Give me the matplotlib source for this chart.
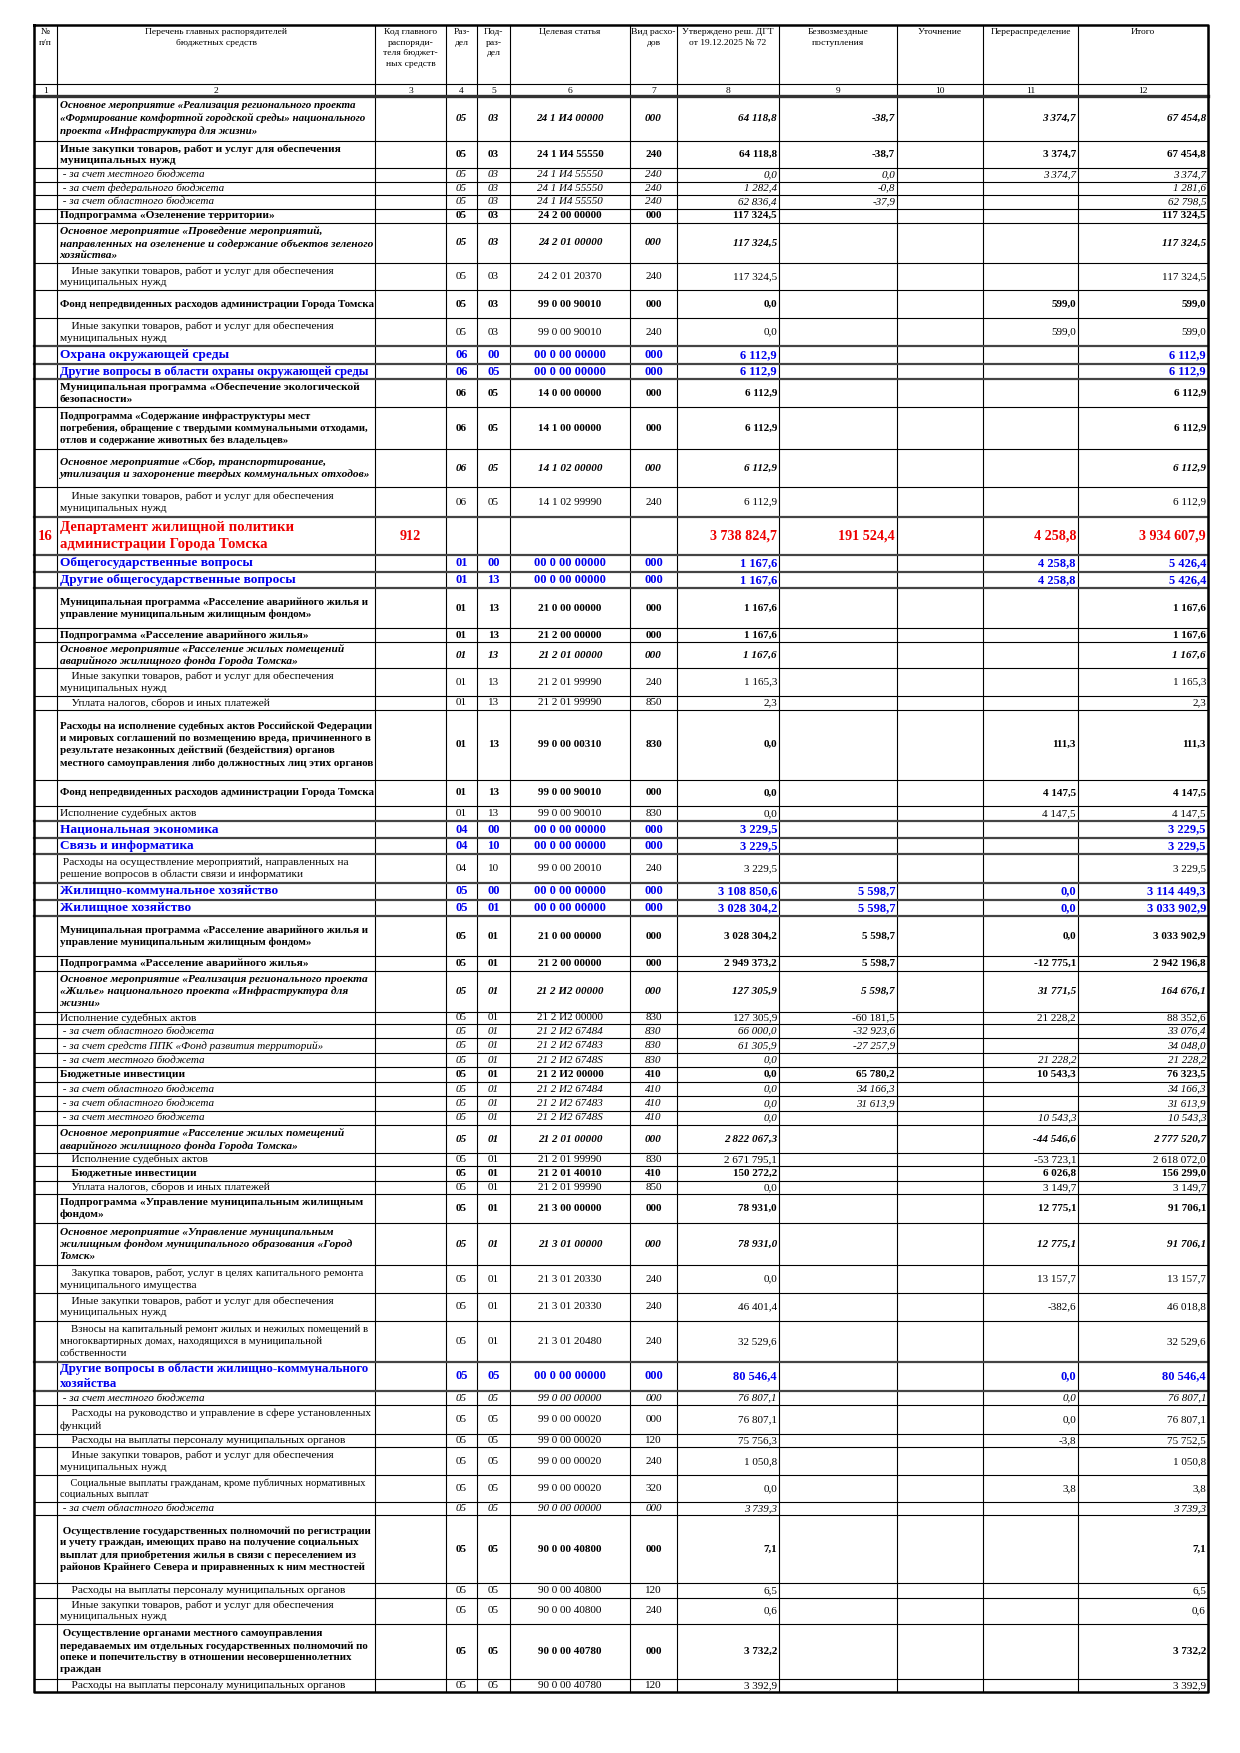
import matplotlib
matplotlib.use("Agg")
import matplotlib.pyplot as plt

plt.rcParams['font.family'] = ['Liberation Serif', 'DejaVu Serif']

# ---------------- DATA ----------------
header_labels = ["№\nп/п", "Перечень главных распорядителей\nбюджетных средств",
                 "Код главного\nраспоряди-\nтеля бюджет-\nных средств", "Раз-\nдел", "Под-\nраз-\nдел",
                 "Целевая статья", "Вид расхо-\nдов", "Утверждено реш. ДГТ\nот 19.12.2025 № 72",
                 "Безвозмездные\nпоступления", "Уточнение", "Перераспределение", "Итого"]
col_numbers = ["1", "2", "3", "4", "5", "6", "7", "8", "9", "10", "11", "12"]

ZAK = "Иные закупки товаров, работ и услуг для обеспечения\nмуниципальных нужд"
ZAK_I = "    Иные закупки товаров, работ и услуг для обеспечения\nмуниципальных нужд"
VYP = "    Расходы на выплаты персоналу муниципальных органов"
FOND = "Фонд непредвиденных расходов администрации Города Томска"
MP_RAS = "Муниципальная программа «Расселение аварийного жилья и\nуправление муниципальным жилищным фондом»"

labels = [
    "Основное мероприятие «Реализация регионального проекта\n«Формирование комфортной городской среды» национального\nпроекта «Инфраструктура для жизни»",
    ZAK,
    " - за счет местного бюджета",
    " - за счет федерального бюджета",
    " - за счет областного бюджета",
    "Подпрограмма «Озеленение территории»",
    "Основное мероприятие «Проведение мероприятий,\nнаправленных на озеленение и содержание объектов зеленого\nхозяйства»",
    ZAK_I,
    FOND,
    ZAK_I,
    "Охрана окружающей среды",
    "Другие вопросы в области охраны окружающей среды",
    "Муниципальная программа «Обеспечение экологической\nбезопасности»",
    "Подпрограмма «Содержание инфраструктуры мест\nпогребения, обращение с твердыми коммунальными отходами,\nотлов и содержание животных без владельцев»",
    "Основное мероприятие «Сбор, транспортирование,\nутилизация и захоронение твердых коммунальных отходов»",
    ZAK_I,
    "Департамент жилищной политики\nадминистрации Города Томска",
    "Общегосударственные вопросы",
    "Другие общегосударственные вопросы",
    MP_RAS,
    "Подпрограмма «Расселение аварийного жилья»",
    "Основное мероприятие «Расселение жилых помещений\nаварийного жилищного фонда Города Томска»",
    ZAK_I,
    "    Уплата налогов, сборов и иных платежей",
    "Расходы на исполнение судебных актов Российской Федерации\nи мировых соглашений по возмещению вреда, причиненного в\nрезультате незаконных действий (бездействия) органов\nместного самоуправления либо должностных лиц этих органов",
    FOND,
    "Исполнение судебных актов",
    "Национальная экономика",
    "Связь и информатика",
    " Расходы на осуществление мероприятий, направленных на\nрешение вопросов в области связи и информатики",
    "Жилищно-коммунальное хозяйство",
    "Жилищное хозяйство",
    MP_RAS,
    "Подпрограмма «Расселение аварийного жилья»",
    "Основное мероприятие «Реализация регионального проекта\n«Жилье» национального проекта «Инфраструктура для\nжизни»",
    "Исполнение судебных актов",
    " - за счет областного бюджета",
    " - за счет средств ППК «Фонд развития территорий»",
    " - за счет местного бюджета",
    "Бюджетные инвестиции",
    " - за счет областного бюджета",
    " - за счет областного бюджета",
    " - за счет местного бюджета",
    "Основное мероприятие «Расселение жилых помещений\nаварийного жилищного фонда Города Томска»",
    "    Исполнение судебных актов",
    "    Бюджетные инвестиции",
    "    Уплата налогов, сборов и иных платежей",
    "Подпрограмма «Управление муниципальным жилищным\nфондом»",
    "Основное мероприятие «Управление муниципальным\nжилищным фондом муниципального образования «Город\nТомск»",
    "    Закупка товаров, работ, услуг в целях капитального ремонта\nмуниципального имущества",
    ZAK_I,
    "    Взносы на капитальный ремонт жилых и нежилых помещений в\nмногоквартирных домах, находящихся в муниципальной\nсобственности",
    "Другие вопросы в области жилищно-коммунального\nхозяйства",
    " - за счет местного бюджета",
    "    Расходы на руководство и управление в сфере установленных\nфункций",
    VYP,
    ZAK_I,
    "    Социальные выплаты гражданам, кроме публичных нормативных\nсоциальных выплат",
    " - за счет областного бюджета",
    " Осуществление государственных полномочий по регистрации\nи учету граждан, имеющих право на получение социальных\nвыплат для приобретения жилья в связи с переселением из\nрайонов Крайнего Севера и приравненных к ним местностей",
    VYP,
    ZAK_I,
    " Осуществление органами местного самоуправления\nпередаваемых им отдельных государственных полномочий по\nопеке и попечительству в отношении несовершеннолетних\nграждан",
    VYP,
]

row_no = [""] * 16 + ["16"] + [""] * 47
gr_code = [""] * 16 + ["912"] + [""] * 47

razdel = ["05"] * 10 + ["06"] * 6 + [""] + ["01"] * 10 + ["04"] * 3 + ["05"] * 34
podrazdel = (["03"] * 10 + ["00"] + ["05"] * 5 + [""] + ["00"] + ["13"] * 9 + ["00"] + ["10"] * 2
             + ["00"] + ["01"] * 21 + ["05"] * 12)

target = [
    "24 1 И4 00000", "24 1 И4 55550", "24 1 И4 55550", "24 1 И4 55550", "24 1 И4 55550",
    "24 2 00 00000", "24 2 01 00000", "24 2 01 20370", "99 0 00 90010", "99 0 00 90010",
    "00 0 00 00000", "00 0 00 00000", "14 0 00 00000", "14 1 00 00000", "14 1 02 00000",
    "14 1 02 99990", "", "00 0 00 00000", "00 0 00 00000", "21 0 00 00000",
    "21 2 00 00000", "21 2 01 00000", "21 2 01 99990", "21 2 01 99990", "99 0 00 00310",
    "99 0 00 90010", "99 0 00 90010", "00 0 00 00000", "00 0 00 00000", "99 0 00 20010",
    "00 0 00 00000", "00 0 00 00000", "21 0 00 00000", "21 2 00 00000", "21 2 И2 00000",
    "21 2 И2 00000", "21 2 И2 67484", "21 2 И2 67483", "21 2 И2 6748S", "21 2 И2 00000",
    "21 2 И2 67484", "21 2 И2 67483", "21 2 И2 6748S", "21 2 01 00000", "21 2 01 99990",
    "21 2 01 40010", "21 2 01 99990", "21 3 00 00000", "21 3 01 00000", "21 3 01 20330",
    "21 3 01 20330", "21 3 01 20480", "00 0 00 00000", "99 0 00 00000", "99 0 00 00020",
    "99 0 00 00020", "99 0 00 00020", "99 0 00 00020", "90 0 00 00000", "90 0 00 40800",
    "90 0 00 40800", "90 0 00 40800", "90 0 00 40780", "90 0 00 40780",
]

vid = [
    "000", "240", "240", "240", "240", "000", "000", "240", "000", "240",
    "000", "000", "000", "000", "000", "240", "", "000", "000", "000",
    "000", "000", "240", "850", "830", "000", "830", "000", "000", "240",
    "000", "000", "000", "000", "000", "830", "830", "830", "830", "410",
    "410", "410", "410", "000", "830", "410", "850", "000", "000", "240",
    "240", "240", "000", "000", "000", "120", "240", "320", "000", "000",
    "120", "240", "000", "120",
]

N = None
approved = [
    64118.8, 64118.8, 0.0, 1282.4, 62836.4, 117324.5, 117324.5, 117324.5, 0.0, 0.0,
    6112.9, 6112.9, 6112.9, 6112.9, 6112.9, 6112.9, 3738824.7, 1167.6, 1167.6, 1167.6,
    1167.6, 1167.6, 1165.3, 2.3, 0.0, 0.0, 0.0, 3229.5, 3229.5, 3229.5,
    3108850.6, 3028304.2, 3028304.2, 2949373.2, 127305.9, 127305.9, 66000.0, 61305.9, 0.0, 0.0,
    0.0, 0.0, 0.0, 2822067.3, 2671795.1, 150272.2, 0.0, 78931.0, 78931.0, 0.0,
    46401.4, 32529.6, 80546.4, 76807.1, 76807.1, 75756.3, 1050.8, 0.0, 3739.3, 7.1,
    6.5, 0.6, 3732.2, 3392.9,
]
free_receipts = [
    -38.7, -38.7, 0.0, -0.8, -37.9, N, N, N, N, N,
    N, N, N, N, N, N, 191524.4, N, N, N,
    N, N, N, N, N, N, N, N, N, N,
    5598.7, 5598.7, 5598.7, 5598.7, 5598.7, -60181.5, -32923.6, -27257.9, N, 65780.2,
    34166.3, 31613.9, N, N, N, N, N, N, N, N,
    N, N, N, N, N, N, N, N, N, N,
    N, N, N, N,
]
refinement = [N] * 64
redistribution = [
    3374.7, 3374.7, 3374.7, N, N, N, N, N, 599.0, 599.0,
    N, N, N, N, N, N, 4258.8, 4258.8, 4258.8, N,
    N, N, N, N, 111.3, 4147.5, 4147.5, N, N, N,
    0.0, 0.0, 0.0, -12775.1, 31771.5, 21228.2, N, N, 21228.2, 10543.3,
    N, N, 10543.3, -44546.6, -53723.1, 6026.8, 3149.7, 12775.1, 12775.1, 13157.7,
    -382.6, N, 0.0, 0.0, 0.0, -3.8, N, 3.8, N, N,
    N, N, N, N,
]
total = [
    67454.8, 67454.8, 3374.7, 1281.6, 62798.5, 117324.5, 117324.5, 117324.5, 599.0, 599.0,
    6112.9, 6112.9, 6112.9, 6112.9, 6112.9, 6112.9, 3934607.9, 5426.4, 5426.4, 1167.6,
    1167.6, 1167.6, 1165.3, 2.3, 111.3, 4147.5, 4147.5, 3229.5, 3229.5, 3229.5,
    3114449.3, 3033902.9, 3033902.9, 2942196.8, 164676.1, 88352.6, 33076.4, 34048.0, 21228.2, 76323.5,
    34166.3, 31613.9, 10543.3, 2777520.7, 2618072.0, 156299.0, 3149.7, 91706.1, 91706.1, 13157.7,
    46018.8, 32529.6, 80546.4, 76807.1, 76807.1, 75752.5, 1050.8, 3.8, 3739.3, 7.1,
    6.5, 0.6, 3732.2, 3392.9,
]

# ---------------- STYLE / LAYOUT ----------------
row_kind = [
    "om", "b", "i", "i", "i", "b", "om", "n", "b", "n",
    "blue", "blue", "b", "b", "om", "n", "red", "blue", "blue", "b",
    "b", "om", "n", "n", "b", "b", "n", "blue", "blue", "n",
    "blue", "blue", "b", "b", "om", "n", "i", "i", "i", "b",
    "i", "i", "i", "om", "n", "b", "n", "b", "om", "n",
    "n", "n", "blue", "i", "n", "n", "n", "n", "i", "b",
    "n", "n", "b", "n",
]

KIND = {
    "n":    dict(weight="normal", style="normal", color="black", size=8.2, nsize=8.0),
    "i":    dict(weight="normal", style="italic", color="black", size=8.0, nsize=7.9),
    "b":    dict(weight="bold", style="normal", color="black", size=8.2, nsize=8.0),
    "om":   dict(weight="bold", style="italic", color="black", size=8.2, nsize=8.0),
    "blue": dict(weight="bold", style="normal", color="#0000ee", size=9.6, nsize=9.0),
    "red":  dict(weight="bold", style="normal", color="#ee0000", size=10.6, nsize=10.2),
}

# table geometry (pixels)
col_edges = [34, 57, 375, 446, 477, 510, 630, 677, 779, 897, 983, 1078, 1208]
table_top, head_bottom, num_bottom, table_bottom = 25, 84, 96, 1692
# relative row edges (reference units), scaled into [num_bottom, table_bottom]
row_edges_ref = [86, 126.5, 151, 163, 175, 187.5, 200, 236.5, 261, 286, 311, 327, 341, 366, 404,
                 438, 465, 499, 514, 529, 565, 577, 601, 626, 638, 701, 725, 738, 754, 768, 794,
                 809, 824, 860, 873, 910, 921, 934, 947, 960, 973, 986, 999, 1012, 1037, 1049,
                 1062, 1074, 1100, 1138, 1163, 1188, 1225, 1251, 1264, 1290, 1302, 1327, 1351,
                 1363, 1424, 1437, 1461, 1510, 1522]
r0, r1 = row_edges_ref[0], row_edges_ref[-1]
row_edges = [num_bottom + (r - r0) * (table_bottom - num_bottom) / (r1 - r0) for r in row_edges_ref]


def fmt(v):
    if v is None:
        return ""
    s = f"{abs(v):,.1f}".replace(",", " ").replace(".", ",")
    return ("-" + s) if v < 0 else s


W, H = 1240, 1753
fig = plt.figure(figsize=(W / 100, H / 100), dpi=100)
ax = fig.add_axes([0, 0, 1, 1])
ax.set_xlim(0, W)
ax.set_ylim(H, 0)
ax.axis("off")
renderer = fig.canvas.get_renderer()


def fit(t, maxw):
    for _ in range(30):
        bb = t.get_window_extent(renderer)
        if bb.width <= maxw:
            break
        t.set_fontsize(t.get_fontsize() * 0.97)


# ---------- grid lines ----------
L, R = col_edges[0], col_edges[-1]
for x in col_edges:
    ax.plot([x, x], [table_top, table_bottom], color="black", lw=0.8, solid_capstyle="butt")
ax.plot([L, R], [head_bottom, head_bottom], color="black", lw=0.8)
ax.plot([L, R], [num_bottom, num_bottom], color="#333333", lw=2.4)
thick_rows = {i for i, k in enumerate(row_kind) if k in ("blue", "red")}
for j, y in enumerate(row_edges[1:-1], start=1):
    lw = 1.6 if (j - 1 in thick_rows or j in thick_rows) else 0.8
    col = "#444444" if lw > 1 else "black"
    ax.plot([L, R], [y, y], color=col, lw=lw)
# outer frame
ax.plot([L, R, R, L, L], [table_top, table_top, table_bottom, table_bottom, table_top],
        color="black", lw=1.8)

# ---------- header ----------
for c, txt in enumerate(header_labels):
    xc = (col_edges[c] + col_edges[c + 1]) / 2
    t = ax.text(xc, table_top + 3, txt, ha="center", va="top", fontsize=6.8,
                linespacing=1.45, multialignment="center")
    fit(t, col_edges[c + 1] - col_edges[c] - 2)
    ax.text(xc, (head_bottom + num_bottom) / 2 + 0.5, col_numbers[c], ha="center", va="center",
            fontsize=6.8)

# ---------- body ----------
num_cols = [approved, free_receipts, refinement, redistribution, total]
for i in range(len(labels)):
    k = KIND[row_kind[i]]
    ytop, ybot = row_edges[i], row_edges[i + 1]
    yc = (ytop + ybot) / 2
    common = dict(fontweight=k["weight"], fontstyle=k["style"], color=k["color"])
    # label
    t = ax.text(col_edges[1] + 2.5, yc, labels[i], ha="left", va="center",
                fontsize=k["size"], linespacing=1.36, multialignment="left", **common)
    fit(t, col_edges[2] - col_edges[1] - 4)
    # № and main manager code
    if row_no[i]:
        ax.text((col_edges[0] + col_edges[1]) / 2, yc, row_no[i], ha="center", va="center",
                fontsize=k["size"], **common)
    if gr_code[i]:
        ax.text((col_edges[2] + col_edges[3]) / 2, yc, gr_code[i], ha="center", va="center",
                fontsize=k["nsize"], **common)
    # codes
    for c, arr in zip((3, 4, 5, 6), (razdel, podrazdel, target, vid)):
        if arr[i]:
            t = ax.text((col_edges[c] + col_edges[c + 1]) / 2, yc, arr[i], ha="center",
                        va="center", fontsize=k["nsize"], **common)
            fit(t, col_edges[c + 1] - col_edges[c] - 4)
    # values
    for c, arr in zip((7, 8, 9, 10, 11), num_cols):
        s = fmt(arr[i])
        if s:
            t = ax.text(col_edges[c + 1] - 2, yc, s, ha="right", va="center",
                        fontsize=k["nsize"], **common)
            fit(t, col_edges[c + 1] - col_edges[c] - 4)

fig.savefig("out.png", dpi=100, facecolor="white")
